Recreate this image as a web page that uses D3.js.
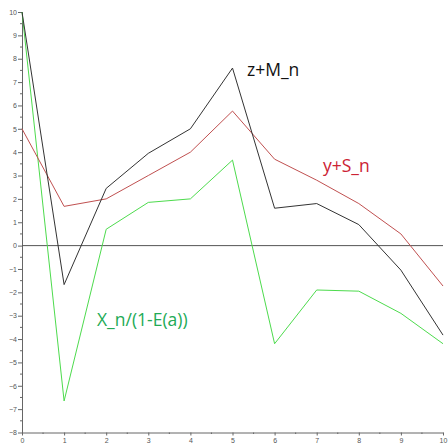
<!DOCTYPE html>
<html>
<head>
<meta charset="utf-8">
<script src="https://cdn.jsdelivr.net/npm/d3@7"></script>
<style>
  body { margin: 0; background: #fff; }
  svg { display: block; }
</style>
</head>
<body>
<div id="chart"></div>
<script>
// x positions and the three series
const steps = [0, 1, 2, 3, 4, 5, 6, 7, 8, 9, 10];
const zM = [10, -1.67, 2.45, 3.95, 5.0, 7.6, 1.6, 1.8, 0.9, -1.05, -3.83];
const yS = [5.0, 1.68, 2.0, 3.0, 4.0, 5.76, 3.7, 2.8, 1.8, 0.5, -1.73];
const xE = [10, -6.65, 0.7, 1.85, 2.0, 3.66, -4.2, -1.9, -1.95, -2.9, -4.2];
const yTicks = [-8, -7, -6, -5, -4, -3, -2, -1, 0, 1, 2, 3, 4, 5, 6, 7, 8, 9, 10];

const W = 448, H = 448;
const svg = d3.select('#chart').append('svg')
  .attr('width', W)
  .attr('height', H);

const x = d3.scaleLinear().domain([0, 10]).range([22, 443]);
const y = d3.scaleLinear().domain([-8, 10]).range([432.5, 12]);

const axisColor = '#666';

// y axis
const yAxis = svg.append('g')
  .attr('transform', `translate(${x(0)},0)`)
  .call(d3.axisLeft(y).tickValues(yTicks).tickSize(4).tickSizeOuter(0).tickFormat(d3.format('d')));
yAxis.select('.domain').attr('stroke', axisColor);
yAxis.selectAll('.tick line').attr('stroke', axisColor);
yAxis.selectAll('.tick text')
  .attr('fill', '#555')
  .attr('font-family', 'Liberation Sans, Arial, sans-serif')
  .attr('font-size', 7)
  .attr('x', -5);

// y minor ticks
svg.append('g').selectAll('line')
  .data(d3.range(-7.5, 10, 1))
  .join('line')
    .attr('x1', x(0) - 2)
    .attr('x2', x(0))
    .attr('y1', d => y(d))
    .attr('y2', d => y(d))
    .attr('stroke', axisColor);

// x axis
const xAxis = svg.append('g')
  .attr('transform', `translate(0,${y(-8)})`)
  .call(d3.axisBottom(x).tickValues(steps).tickSize(3).tickSizeOuter(0).tickFormat(d3.format('d')));
xAxis.select('.domain').attr('stroke', axisColor);
xAxis.selectAll('.tick line').attr('stroke', axisColor);
xAxis.selectAll('.tick text')
  .attr('fill', '#555')
  .attr('font-family', 'Liberation Sans, Arial, sans-serif')
  .attr('font-size', 7)
  .attr('y', 6);

// x minor ticks
svg.append('g').selectAll('line')
  .data(d3.range(0.5, 10, 1))
  .join('line')
    .attr('x1', d => x(d))
    .attr('x2', d => x(d))
    .attr('y1', y(-8))
    .attr('y2', y(-8) + 1.5)
    .attr('stroke', axisColor);

// zero line
svg.append('line')
  .attr('x1', x(0))
  .attr('x2', x(10))
  .attr('y1', y(0))
  .attr('y2', y(0))
  .attr('stroke', '#555')
  .attr('stroke-width', 1);

// series
const line = d3.line()
  .x((d, i) => x(steps[i]))
  .y(d => y(d));

const series = [
  { data: xE, color: '#4ddb4d' },
  { data: yS, color: '#c05050' },
  { data: zM, color: '#333' },
];

svg.selectAll('path.series')
  .data(series)
  .join('path')
    .attr('class', 'series')
    .attr('fill', 'none')
    .attr('stroke', d => d.color)
    .attr('stroke-width', 1)
    .attr('d', d => line(d.data));

// labels
const labels = [
  { text: 'z+M_n', x: 247, y: 76, color: '#111' },
  { text: 'y+S_n', x: 323, y: 172, color: '#cc2233' },
  { text: 'X_n/(1-E(a))', x: 97, y: 326, color: '#22aa55' },
];

svg.selectAll('text.lbl')
  .data(labels)
  .join('text')
    .attr('class', 'lbl')
    .attr('x', d => d.x)
    .attr('y', d => d.y)
    .attr('fill', d => d.color)
    .attr('font-family', 'Open Sans, sans-serif')
    .attr('font-size', 17.5)
    .text(d => d.text);
</script>
</body>
</html>
